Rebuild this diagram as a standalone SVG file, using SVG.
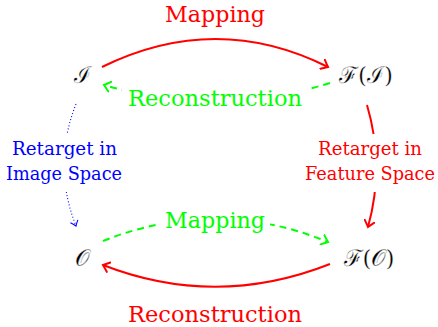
<svg xmlns="http://www.w3.org/2000/svg" width="438" height="327" viewBox="0 0 438 327">
<style>
text{font-family:'DejaVu Serif',serif}
.t{text-anchor:middle}
.m{font-family:'DejaVu Serif',serif;font-size:23px;text-anchor:middle;fill:#000;stroke:#fff;stroke-width:0.3}
.red{stroke:#ff0000;stroke-width:2;fill:none}
.grn{stroke:#00ff00;stroke-width:2;fill:none;stroke-dasharray:7 5}
.blu{stroke:#0000ff;stroke-width:1.1;fill:none;stroke-dasharray:1 2.2}
</style>
<defs>
<marker id="ar" viewBox="-7 -6 9 12" markerWidth="9" markerHeight="12" refX="0" refY="0" orient="auto" markerUnits="userSpaceOnUse">
<path d="M-6,-5 Q-2,-1.5 0,0 Q-2,1.5 -6,5" stroke="#ff0000" stroke-width="2" fill="none" stroke-linecap="round"/>
</marker>
<marker id="ag" viewBox="-7 -6 9 12" markerWidth="9" markerHeight="12" refX="0" refY="0" orient="auto" markerUnits="userSpaceOnUse">
<path d="M-6,-5 Q-2,-1.5 0,0 Q-2,1.5 -6,5" stroke="#00ff00" stroke-width="2" fill="none" stroke-linecap="round"/>
</marker>
<marker id="ab" viewBox="-7 -6 9 12" markerWidth="9" markerHeight="12" refX="0" refY="0" orient="auto" markerUnits="userSpaceOnUse">
<path d="M-5,-4 Q-2,-1.2 0,0 Q-2,1.2 -5,4" stroke="#0000ff" stroke-width="1.1" fill="none"/>
</marker>
</defs>
<g id="connectors">
<path class="red" d="M102,67 Q216,11 328,67" marker-end="url(#ar)"/>
<path class="grn" d="M330,83 Q216,118 104,85" marker-end="url(#ag)"/>
<path class="blu" d="M76,104 Q52,165 76,226" marker-end="url(#ab)"/>
<path class="red" d="M367,105 Q385,166 368,227" marker-end="url(#ar)"/>
<path class="grn" d="M103,241 Q216,196 328,242" marker-end="url(#ag)"/>
<path class="red" d="M330,264 Q216,309 103,265" marker-end="url(#ar)"/>
<rect x="122" y="86" width="186" height="26" fill="#fff"/>
<rect x="160" y="204" width="110" height="30" fill="#fff"/>
<rect x="4" y="134" width="122" height="58" fill="#fff"/>
<rect x="302" y="134" width="136" height="58" fill="#fff"/>
<text class="t" x="215" y="22" font-size="23" fill="#ff0000" textLength="100" lengthAdjust="spacingAndGlyphs">Mapping</text>
<text class="t" x="215" y="106" font-size="23" fill="#00ff00" textLength="174" lengthAdjust="spacingAndGlyphs">Reconstruction</text>
<text class="t" x="64.5" y="155" font-size="18" fill="#0000ff" textLength="105" lengthAdjust="spacingAndGlyphs">Retarget in</text>
<text class="t" x="64" y="180" font-size="18" fill="#0000ff" textLength="116" lengthAdjust="spacingAndGlyphs">Image Space</text>
<text class="t" x="370" y="155" font-size="18" fill="#ff0000" textLength="104" lengthAdjust="spacingAndGlyphs">Retarget in</text>
<text class="t" x="370" y="180" font-size="18" fill="#ff0000" textLength="130" lengthAdjust="spacingAndGlyphs">Feature Space</text>
<text class="t" x="215" y="228" font-size="23" fill="#00ff00" textLength="100" lengthAdjust="spacingAndGlyphs">Mapping</text>
<text class="t" x="215" y="322" font-size="23" fill="#ff0000" textLength="174" lengthAdjust="spacingAndGlyphs">Reconstruction</text>
</g>
<g id="node-I"><text class="m" x="82" y="83">ℐ</text></g>
<g id="node-FI"><text class="m" x="366" y="83">ℱ(ℐ)</text></g>
<g id="node-O"><text class="m" x="82" y="266">𝒪</text></g>
<g id="node-FO"><text class="m" x="369" y="266">ℱ(𝒪)</text></g>
</svg>
